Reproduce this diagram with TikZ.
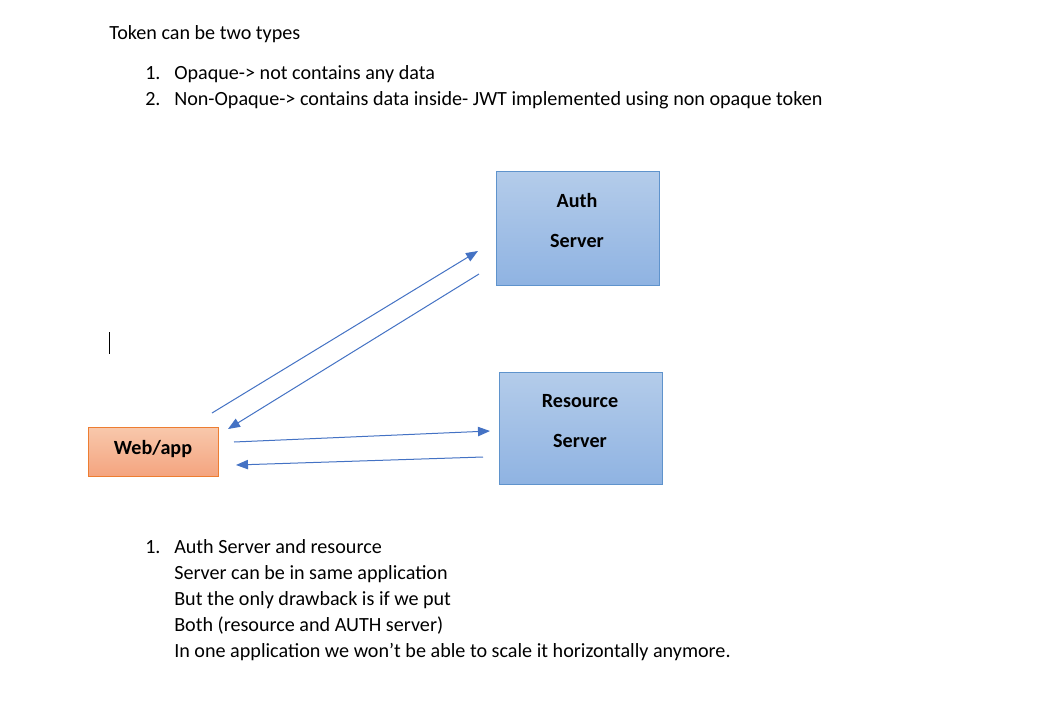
\documentclass[tikz,border=0pt]{standalone}
\usepackage{fontspec}
\setmainfont{Carlito}
\usetikzlibrary{arrows.meta}
\definecolor{boxblueT}{HTML}{B4CCEA}
\definecolor{boxblueB}{HTML}{8FB3E2}
\definecolor{boxblueD}{HTML}{5F93CC}
\definecolor{boxorT}{HTML}{F8C8AC}
\definecolor{boxorB}{HTML}{F4A47F}
\definecolor{boxorD}{HTML}{ED7D31}
\definecolor{arrowblue}{HTML}{4472C4}
\tikzset{
  txt/.style={anchor=base west, inner sep=0pt, font=\fontsize{15.1}{18}\selectfont},
  bluebox/.style={draw=boxblueD, line width=0.75pt, top color=boxblueT, bottom color=boxblueB, minimum width=122.25pt, inner sep=0pt},
  orbox/.style={draw=boxorD, line width=0.75pt, top color=boxorT, bottom color=boxorB, minimum width=97.5pt, minimum height=36.75pt, inner sep=0pt},
  lbl/.style={inner sep=0pt, font=\fontsize{15.1}{18}\selectfont\bfseries},
  conn/.style={draw=arrowblue, line width=0.75pt, -{Triangle[length=9pt,width=7pt]}},
}
\begin{document}
\begin{tikzpicture}[x=0.75pt,y=-0.75pt]
\useasboundingbox (0,0) rectangle (1051,715);
\fill[white] (0,0) rectangle (1051,715);
% top text
\node[txt] (t0) at (109,39.5) {Token can be two types};
\node[txt] (n1) at (145,79.5) {1.};
\node[txt] (i1) at (174,79.5) {Opaque-> not contains any data};
\node[txt] (n2) at (145,105.5) {2.};
\node[txt] (i2) at (174,105.5) {Non-Opaque-> contains data inside- JWT implemented using non opaque token};
% boxes
\node[bluebox, minimum height=85.5pt] (auth) at (577.5,228) {};
\node[lbl] (authA) at (577,201) {Auth};
\node[lbl] (authB) at (577,241) {Server};
\node[bluebox, minimum height=84pt] (res) at (580.5,428) {};
\node[lbl] (resA) at (580,401) {Resource};
\node[lbl] (resB) at (580,441) {Server};
\node[orbox] (web) at (153,451.5) {};
\node[lbl] (webL) at (153,449) {Web/app};
% connector endpoints
\coordinate (a1s) at (212,413);
\coordinate (a1e) at (478,251);
\coordinate (a2s) at (479,274);
\coordinate (a2e) at (228,429);
\coordinate (a3s) at (234,442);
\coordinate (a3e) at (490,431);
\coordinate (a4s) at (483,457);
\coordinate (a4e) at (236,465);
\draw[conn] (a1s) -- (a1e);
\draw[conn] (a2s) -- (a2e);
\draw[conn] (a3s) -- (a3e);
\draw[conn] (a4s) -- (a4e);
% text cursor
\coordinate (c1) at (109.5,332);
\coordinate (c2) at (109.5,354);
\draw[black, line width=0.9pt] (c1) -- (c2);
% bottom list
\node[txt] (m1) at (145,553.5) {1.};
\node[txt] (b1) at (174,553.5) {Auth Server and resource};
\node[txt] (b2) at (174,579.5) {Server can be in same application};
\node[txt] (b3) at (174,605.5) {But the only drawback is if we put};
\node[txt] (b4) at (174,631.5) {Both (resource and AUTH server)};
\node[txt] (b5) at (174,657.5) {In one application we won’t be able to scale it horizontally anymore.};
\end{tikzpicture}
\end{document}
